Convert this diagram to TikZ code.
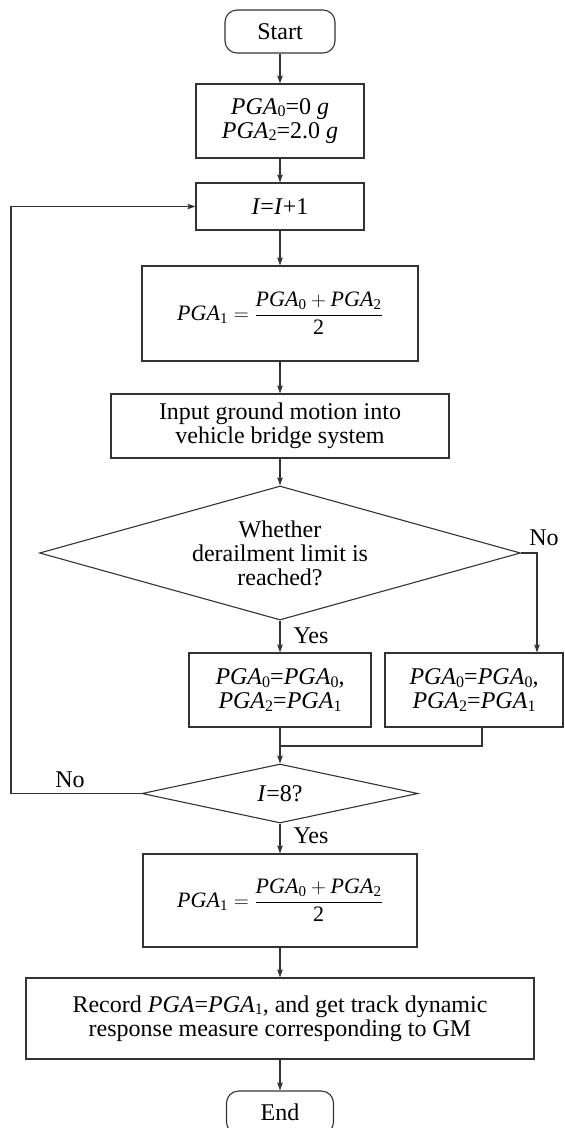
\documentclass[tikz,border=0pt]{standalone}
\usepackage{amsmath}
\usepackage{fontspec}
\setmainfont{Liberation Serif}
\usetikzlibrary{shapes.geometric,arrows.meta}
\newcommand{\pga}[1]{\textit{PGA}\raisebox{-2.5pt}{\fontsize{16}{16}\selectfont #1}}
\tikzset{
  line/.style={draw=black!80, line width=1.1pt},
  box/.style={line, rectangle, inner sep=0pt, align=center},
  term/.style={box, rounded corners=12pt},
  dec/.style={line, diamond, inner sep=0pt, align=center, aspect=3.5},
  arr/.style={line, -{Stealth[length=8pt,width=5.5pt,inset=1.5pt]}},
  lbl/.style={inner sep=0pt},
  formula/.style={font=\fontsize{22}{24}\selectfont}
}
\begin{document}
\begin{tikzpicture}[x=1pt, y=-1pt, font=\fontsize{24}{24}\selectfont]
\useasboundingbox (0,0) rectangle (565,1128);
\node[term, minimum width=110pt, minimum height=43pt] (start) at (280,31.5) {Start};
\node[box, minimum width=168pt, minimum height=74pt] (b1) at (280,121) {\pga{0}=0 \textit{g}\\\pga{2}=2.0 \textit{g}};
\node[box, minimum width=168pt, minimum height=47pt] (inc) at (280,206.5) {\textit{I}=\textit{I}+1};
\node[box, formula, minimum width=276pt, minimum height=95pt] (f1) at (280,313.5) {$\mbox{\textit{PGA}}_{\mbox{\fontsize{15}{15}\selectfont 1}}=\dfrac{\mbox{\textit{PGA}}_{\mbox{\fontsize{15}{15}\selectfont 0}}+\mbox{\textit{PGA}}_{\mbox{\fontsize{15}{15}\selectfont 2}}}{\mbox{2}}$};
\node[box, minimum width=338pt, minimum height=64pt] (inp) at (280,426) {Input ground motion into\\vehicle bridge system};
\node[dec, minimum width=481pt, minimum height=134pt] (d1) at (280,553) {Whether\\derailment limit is\\reached?};
\node[box, minimum width=182pt, minimum height=74pt] (lb) at (280,690) {\pga{0}=\pga{0},\\\pga{2}=\pga{1}};
\node[box, minimum width=178pt, minimum height=74pt] (rb) at (474,690) {\pga{0}=\pga{0},\\\pga{2}=\pga{1}};
\node[dec, minimum width=276pt, minimum height=59pt] (d2) at (280,793.5) {\textit{I}=8?};
\node[box, formula, minimum width=274pt, minimum height=93pt] (f2) at (280,900.5) {$\mbox{\textit{PGA}}_{\mbox{\fontsize{15}{15}\selectfont 1}}=\dfrac{\mbox{\textit{PGA}}_{\mbox{\fontsize{15}{15}\selectfont 0}}+\mbox{\textit{PGA}}_{\mbox{\fontsize{15}{15}\selectfont 2}}}{\mbox{2}}$};
\node[box, minimum width=508pt, minimum height=81pt] (rec) at (280,1018.5) {Record \textit{PGA}=\pga{1}, and get track dynamic\\response measure corresponding to GM};
\node[term, minimum width=107pt, minimum height=43pt] (end) at (280,1112.5) {End};
\node[lbl] (no1) at (544,538) {No};
\node[lbl] (yes1) at (311,636) {Yes};
\node[lbl] (no2) at (70,780) {No};
\node[lbl] (yes2) at (311,836) {Yes};
\coordinate (rj) at (537,553);
\coordinate (mj) at (280,746);
\coordinate (lc) at (11,793.5);
\draw[arr] (start) -- (b1);
\draw[arr] (b1) -- (inc);
\draw[arr] (inc) -- (f1);
\draw[arr] (f1) -- (inp);
\draw[arr] (inp) -- (d1);
\draw[arr] (d1) -- (lb);
\draw[arr] (d1.east) -- (rj) -- (rj |- rb.north);
\draw[arr] (lb) -- (d2);
\draw[line] ([xshift=8pt]rb.south) |- (mj);
\draw[arr] (d2.west) -- (lc) |- (inc.west);
\draw[arr] (d2) -- (f2);
\draw[arr] (f2) -- (rec);
\draw[arr] (rec) -- (end);
\end{tikzpicture}
\end{document}
